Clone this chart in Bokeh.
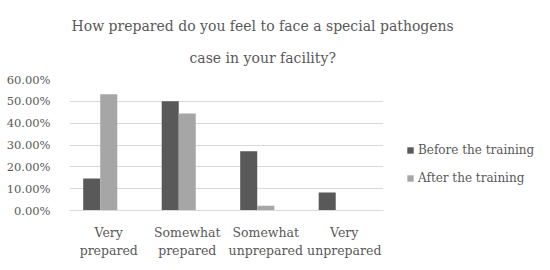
from bokeh.plotting import figure
from bokeh.models import (FactorRange, Range1d, NumeralTickFormatter, Legend, LegendItem,
                          Title, ColumnDataSource, FixedTicker)
from bokeh.transform import dodge
from bokeh.embed import file_html
from bokeh.resources import INLINE

categories = ["Very\nprepared", "Somewhat\nprepared", "Somewhat\nunprepared", "Very\nunprepared"]
before = [0.146, 0.500, 0.271, 0.083]
after = [0.533, 0.444, 0.022, 0.0]
y_ticks = [0.0, 0.1, 0.2, 0.3, 0.4, 0.5, 0.6]
series_names = ["Before the training", "After the training"]
title_lines = ["How prepared do you feel to face a special pathogens", "case in your facility?"]

FONT = "DejaVu Serif"
TXT = "#595959"
DARK = "#595959"
LIGHT = "#a6a6a6"
GRID = "#d9d9d9"

src = ColumnDataSource(data=dict(cat=categories, before=before, after=after))

p = figure(x_range=FactorRange(*categories, range_padding=0), y_range=Range1d(0, 0.6),
           frame_width=314, frame_height=131, output_backend="svg", toolbar_location=None,
           min_border_left=69, min_border_right=151, min_border_top=79, min_border_bottom=52)

r1 = p.vbar(x=dodge("cat", -0.217, range=p.x_range), top="before", width=0.217, source=src,
            color=DARK, line_color=None)
r2 = p.vbar(x=dodge("cat", 0.0, range=p.x_range), top="after", width=0.217, source=src,
            color=LIGHT, line_color=None)

p.outline_line_color = None
p.xgrid.grid_line_color = None
p.ygrid.grid_line_color = GRID
p.ygrid.ticker = FixedTicker(ticks=y_ticks)
p.yaxis.ticker = FixedTicker(ticks=y_ticks)
p.yaxis.formatter = NumeralTickFormatter(format="0.00%")
p.yaxis.axis_line_color = None
p.yaxis.major_tick_line_color = None
p.yaxis.minor_tick_line_color = None
p.yaxis.major_label_standoff = 13
for ax in (p.xaxis, p.yaxis):
    ax.major_label_text_font = FONT
    ax.major_label_text_color = TXT
p.yaxis.major_label_text_font_size = "11.5px"
p.xaxis.major_label_text_font_size = "12.5px"
p.xaxis.axis_line_color = GRID
p.xaxis.major_tick_line_color = None
p.xaxis.minor_tick_line_color = None
p.xaxis.major_label_standoff = 8

legend = Legend(items=[LegendItem(label=series_names[0], renderers=[r1]),
                       LegendItem(label=series_names[1], renderers=[r2])],
                location="bottom_left", orientation="vertical")
legend.label_text_font = FONT
legend.label_text_font_size = "12px"
legend.label_text_color = TXT
legend.glyph_width = 8
legend.glyph_height = 8
legend.label_height = 18
legend.label_standoff = 4
legend.spacing = 10
legend.padding = 3
legend.margin = 23
legend.background_fill_alpha = 0
legend.border_line_color = None
p.add_layout(legend, "right")

for t, off, so in ((title_lines[1], 120, 28), (title_lines[0], 2, 0)):
    p.add_layout(Title(text=t, align="left", offset=off, standoff=so, text_font=FONT,
                       text_font_size="14px", text_font_style="normal",
                       text_color=TXT), "above")

open("out.html", "w").write(file_html(p, INLINE))
